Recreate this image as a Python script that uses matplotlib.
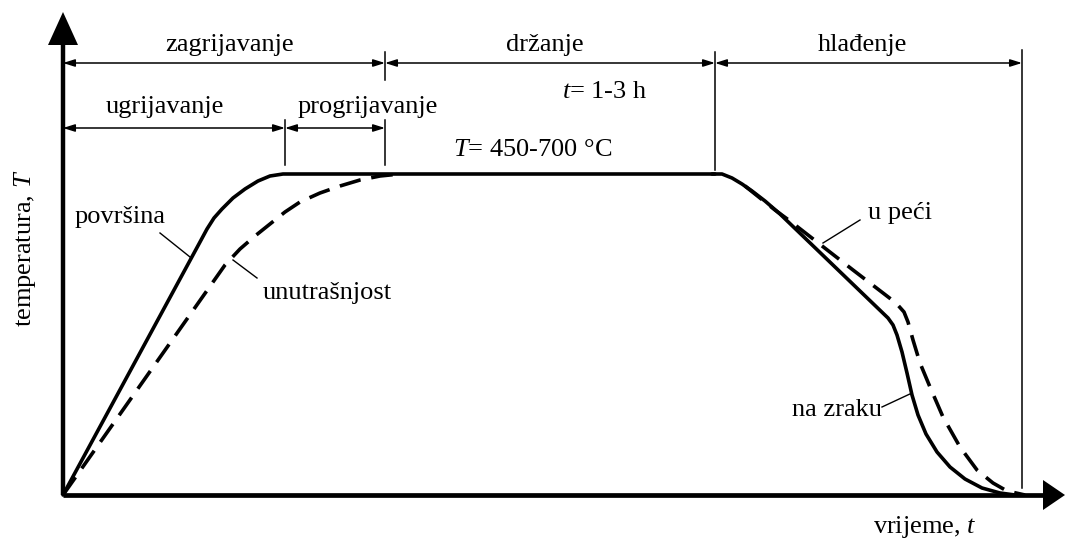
import matplotlib
matplotlib.use("Agg")
import matplotlib.pyplot as plt

plt.rcParams["font.family"] = ["Liberation Serif", "DejaVu Serif"]
plt.rcParams["mathtext.fontset"] = "custom"
plt.rcParams["mathtext.rm"] = "Liberation Serif"
plt.rcParams["mathtext.it"] = "Liberation Serif:italic"

# ── schematic curves (time t, temperature T; arbitrary units) ───────────
surf_heat_t = [0, 137, 144, 151, 159, 170, 182, 195, 207, 220, 652]
surf_heat_T = [0, 253, 266, 277, 286, 297, 306, 314, 319, 321, 321]

core_heat_t = [0, 162, 177, 192, 207, 222, 237, 257, 277, 297, 317, 337]
core_heat_T = [0, 230, 246, 259, 271, 283, 293, 302, 309, 315, 319, 321]

air_cool_t = [649, 659, 669, 679, 689, 702, 717, 825, 830, 834, 839, 844,
              849, 855, 863, 874, 887, 902, 919, 937, 952]
air_cool_T = [321, 321, 317, 311, 304, 294, 281, 177, 170, 160, 143, 122,
              100, 80, 61, 43, 28, 16, 7, 2, 0]

furn_cool_t = [682, 697, 712, 727, 754, 790, 820, 833, 841, 845, 850, 857,
               867, 880, 897, 914, 930, 944, 962]
furn_cool_T = [309, 297, 285, 274, 253, 225, 202, 192, 183, 173, 155, 132,
               108, 78, 48, 25, 12, 4, 0]

# stage boundaries on the time axis
t_surf_hot = 222   # surface reaches T
t_core_hot = 322   # core reaches T
t_hold_end = 652   # end of holding
t_cool_end = 959   # end of cooling

fig = plt.figure(figsize=(10.69, 5.41), dpi=100)
ax = fig.add_axes([0, 0, 1, 1])
ax.set_xlim(-63, 1006)
ax.set_ylim(-46, 495)
ax.axis("off")

# ── axes with arrow heads ───────────────────────────────────────────────
ax.plot([0, 0], [0, 455], color="black", lw=3.2, solid_capstyle="butt")
ax.fill([-15, 15, 0], [450, 450, 483], color="black", lw=0)
ax.plot([0, 982], [0, 0], color="black", lw=3.4, solid_capstyle="butt")
ax.fill([980, 980, 1002], [-15, 15, 0], color="black", lw=0)

# ── curves ───────────────────────────────────────────────────────────────
ax.plot(surf_heat_t, surf_heat_T, color="black", lw=2.6,
        solid_joinstyle="round", solid_capstyle="round")
ax.plot(air_cool_t, air_cool_T, color="black", lw=2.6,
        solid_joinstyle="round", solid_capstyle="round")
ax.plot(core_heat_t, core_heat_T, color="black", lw=2.6, dashes=(6, 3),
        dash_joinstyle="round")
ax.plot(furn_cool_t, furn_cool_T, color="black", lw=2.6, dashes=(6, 3),
        dash_joinstyle="round")

# ── dimension lines ──────────────────────────────────────────────────────
arw = dict(arrowstyle="<|-|>,head_length=0.7,head_width=0.22", color="black",
           lw=1.1, shrinkA=0, shrinkB=0)

def dim(t0, t1, y):
    ax.annotate("", xy=(t1, y), xytext=(t0, y), arrowprops=arw)

dim(0, t_core_hot, 432)
dim(t_core_hot, t_hold_end, 432)
dim(t_hold_end, t_cool_end, 432)
dim(0, t_surf_hot, 367)
dim(t_surf_hot, t_core_hot, 367)

vl = dict(color="black", lw=1.1)
ax.plot([t_core_hot, t_core_hot], [415, 443], **vl)
ax.plot([t_hold_end, t_hold_end], [325, 443], **vl)
ax.plot([t_cool_end, t_cool_end], [7, 445], **vl)
ax.plot([t_surf_hot, t_surf_hot], [330, 375], **vl)
ax.plot([t_core_hot, t_core_hot], [330, 375], **vl)

fs = 19
ax.text(167, 450, "zagrijavanje", ha="center", va="center", fontsize=fs)
ax.text(482, 450, "držanje", ha="center", va="center", fontsize=fs)
ax.text(799, 450, "hlađenje", ha="center", va="center", fontsize=fs)
ax.text(102, 388, "ugrijavanje", ha="center", va="center", fontsize=fs)
ax.text(305, 388, "progrijavanje", ha="center", va="center", fontsize=fs)
ax.text(542, 403, "$t$= 1-3 h", ha="center", va="center", fontsize=fs)
ax.text(470, 345, "$T$= 450-700 °C", ha="center", va="center", fontsize=fs)

# ── curve labels with leaders ────────────────────────────────────────────
ld = dict(color="black", lw=1.0)
ax.text(12, 278, "površina", ha="left", va="center", fontsize=fs)
ax.plot([97, 127], [262, 238], **ld)
ax.text(200, 202, "unutrašnjost", ha="left", va="center", fontsize=fs)
ax.plot([170, 194], [235, 217], **ld)
ax.text(805, 282, "u peći", ha="left", va="center", fontsize=fs)
ax.plot([797, 760], [275, 252], **ld)
ax.text(819, 85, "na zraku", ha="right", va="center", fontsize=fs)
ax.plot([819, 849], [88, 102], **ld)

ax.text(-38, 247, "temperatura, $T$", ha="center", va="center",
        rotation=90, fontsize=fs)
ax.text(862, -32, "vrijeme, $t$", ha="center", va="center", fontsize=fs)

fig.savefig("out.png", dpi=100)
